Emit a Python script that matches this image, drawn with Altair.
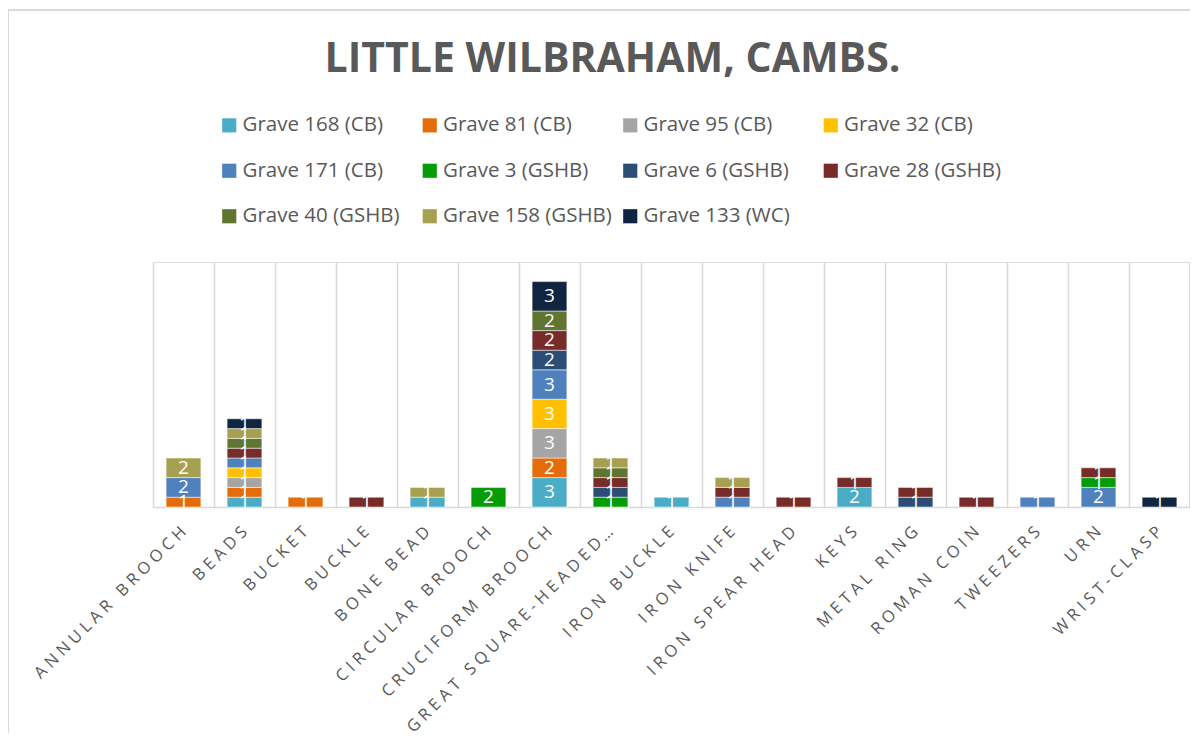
import altair as alt
import pandas as pd

categories = ["ANNULAR BROOCH", "BEADS", "BUCKET", "BUCKLE", "BONE BEAD",
              "CIRCULAR BROOCH", "CRUCIFORM BROOCH", "GREAT SQUARE-HEADED BROOCH",
              "IRON BUCKLE", "IRON KNIFE", "IRON SPEAR HEAD", "KEYS", "METAL RING",
              "ROMAN COIN", "TWEEZERS", "URN", "WRIST-CLASP"]

series = ["Grave 168 (CB)", "Grave 81 (CB)", "Grave 95 (CB)", "Grave 32 (CB)",
          "Grave 171 (CB)", "Grave 3 (GSHB)", "Grave 6 (GSHB)", "Grave 28 (GSHB)",
          "Grave 40 (GSHB)", "Grave 158 (GSHB)", "Grave 133 (WC)"]

colors = ["#4BACC6", "#E46C0A", "#A5A5A5", "#FFC000", "#4F81BD", "#069C06",
          "#2C4D75", "#772C2A", "#5F7530", "#A7A051", "#10253F"]

g168 = [0, 1, 0, 0, 1, 0, 3, 0, 1, 0, 0, 2, 0, 0, 0, 0, 0]
g81 = [1, 1, 1, 0, 0, 0, 2, 0, 0, 0, 0, 0, 0, 0, 0, 0, 0]
g95 = [0, 1, 0, 0, 0, 0, 3, 0, 0, 0, 0, 0, 0, 0, 0, 0, 0]
g32 = [0, 1, 0, 0, 0, 0, 3, 0, 0, 0, 0, 0, 0, 0, 0, 0, 0]
g171 = [2, 1, 0, 0, 0, 0, 3, 0, 0, 1, 0, 0, 0, 0, 1, 2, 0]
g3 = [0, 0, 0, 0, 0, 2, 0, 1, 0, 0, 0, 0, 0, 0, 0, 1, 0]
g6 = [0, 0, 0, 0, 0, 0, 2, 1, 0, 0, 0, 0, 1, 0, 0, 0, 0]
g28 = [0, 1, 0, 1, 0, 0, 2, 1, 0, 1, 1, 1, 1, 1, 0, 1, 0]
g40 = [0, 1, 0, 0, 0, 0, 2, 1, 0, 0, 0, 0, 0, 0, 0, 0, 0]
g158 = [2, 1, 0, 0, 1, 0, 0, 1, 0, 1, 0, 0, 0, 0, 0, 0, 0]
g133 = [0, 1, 0, 0, 0, 0, 3, 0, 0, 0, 0, 0, 0, 0, 0, 0, 1]

values = [g168, g81, g95, g32, g171, g3, g6, g28, g40, g158, g133]

rows = []
for si, (name, vals) in enumerate(zip(series, values)):
    for ci, v in enumerate(vals):
        if v:
            rows.append({"category": categories[ci], "series": name, "idx": si, "value": v})
df = pd.DataFrame(rows)

W, H = 1037, 245
GRID = "#D9D9D9"
TXT = "#595959"

xscale = alt.Scale(paddingInner=0, paddingOuter=0)

base = alt.Chart(df).transform_stack(
    stack="value", groupby=["category"], sort=[alt.SortField("idx", order="ascending")],
    as_=["v0", "v1"]
).transform_calculate(mid="(datum.v0 + datum.v1) / 2")

xenc = alt.X("category:N", sort=categories, title=None, scale=xscale,
             axis=alt.Axis(grid=False, ticks=False, domainColor=GRID, domainWidth=1.5,
                           labelAngle=315, labelAlign="right", labelBaseline="middle",
                           labelFont="Open Sans", labelFontSize=16.5, labelColor=TXT,
                           labelPadding=22, labelLimit=284,
                           labelExpr="join(split(datum.label, ''), '\u2009\u200a')"))

yscale = alt.Scale(domain=[0, 25])

grid_layer = alt.Chart(df).mark_point(opacity=0).encode(
    x=alt.X("category:N", sort=categories, title=None, scale=xscale,
            axis=alt.Axis(orient="top", grid=True, gridColor=GRID, gridWidth=1.5,
                          bandPosition=0, labels=False, ticks=False, domain=False)),
)

bars = base.mark_bar(width=alt.RelativeBandSize(0.57), stroke="white", strokeWidth=0.5).encode(
    x=xenc,
    y=alt.Y("v0:Q", scale=yscale, axis=None),
    y2="v1:Q",
    color=alt.Color("series:N", sort=series,
                    scale=alt.Scale(domain=series, range=colors),
                    legend=alt.Legend(title=None, orient="none", legendX=66, legendY=-147,
                                      columns=4, direction="horizontal", gridAlign="all",
                                      symbolType="square", symbolSize=200, symbolStrokeWidth=0,
                                      labelFont="Open Sans", labelFontSize=20.5, labelColor=TXT,
                                      labelOffset=3, columnPadding=7.5, rowPadding=24.5,
                                      labelLimit=300, padding=0)),
    order=alt.Order("idx:Q"),
)

labels = base.mark_text(color="white", font="Open Sans", fontSize=19, baseline="middle").encode(
    x=alt.X("category:N", sort=categories, scale=xscale, axis=None),
    y=alt.Y("mid:Q", scale=yscale, axis=None),
    text=alt.Text("value:Q"),
)

right_rule = alt.Chart(df).mark_rule(color=GRID, strokeWidth=1.5).encode(
    x=alt.value(W), y=alt.value(0), y2=alt.value(H))
border_left = alt.Chart(df).mark_rule(color=GRID, strokeWidth=1.5).encode(
    x=alt.value(-145), y=alt.value(-252), y2=alt.value(H + 230))
border_top = alt.Chart(df).mark_rule(color=GRID, strokeWidth=1.5).encode(
    x=alt.value(-145), x2=alt.value(W + 10), y=alt.value(-252))

chart = alt.layer(border_left, border_top, right_rule, grid_layer, bars, labels).resolve_axis(
    x="independent"
).properties(
    width=W, height=H,
    title=alt.Title("LITTLE WILBRAHAM, CAMBS.", font="Open Sans", fontSize=41,
                    fontWeight="bold", color=TXT, anchor="middle", dx=-59, dy=72, offset=0),
    autosize=alt.AutoSizeParams(type="none"),
    padding={"left": 145, "top": 254, "right": 0, "bottom": 226},
).configure_view(stroke=None).configure(background="white")

chart.save("out.html", embed_options={"renderer": "svg", "actions": False})
